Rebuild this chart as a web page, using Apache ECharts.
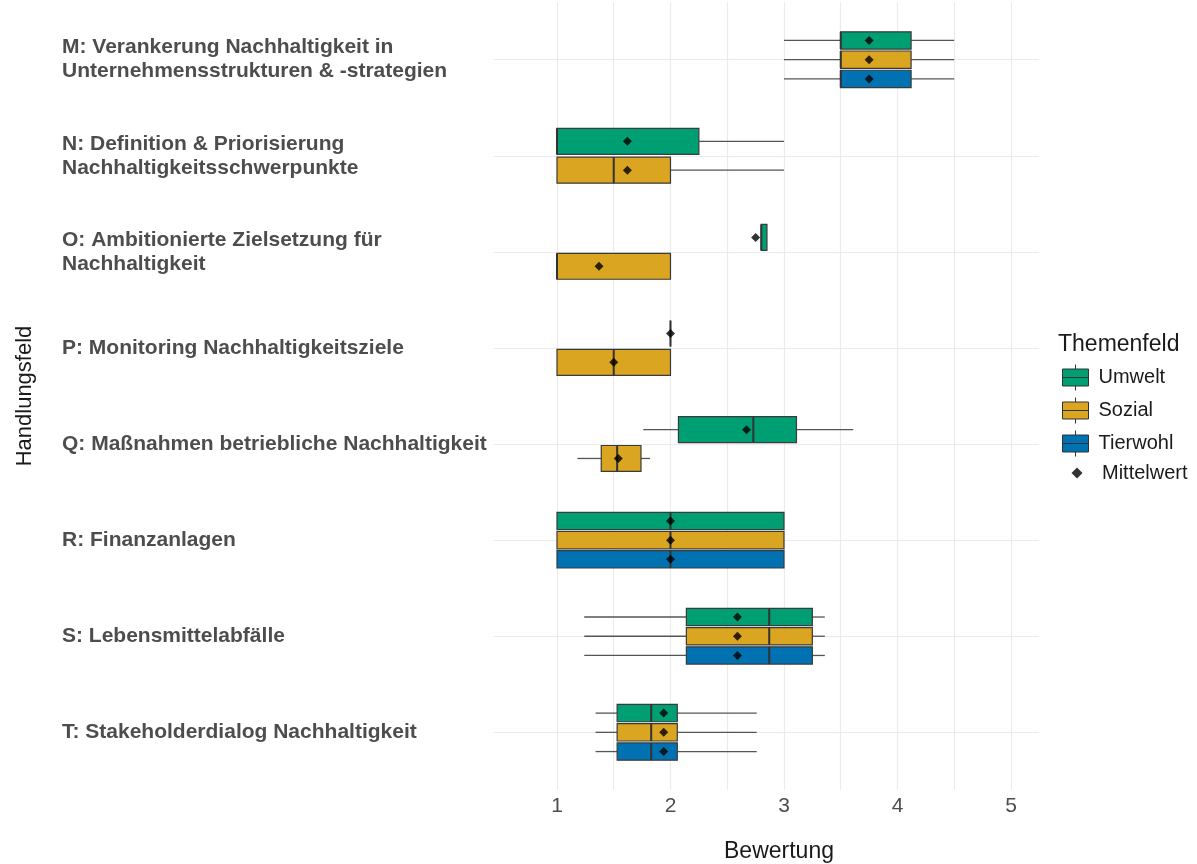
<!DOCTYPE html>
<html>
<head>
<meta charset="utf-8">
<script src="https://cdn.jsdelivr.net/npm/echarts@6/dist/echarts.min.js"></script>
<style>
  html, body { margin: 0; padding: 0; background: #ffffff; }
  #chart { width: 1197px; height: 864px; }
</style>
</head>
<body>
<div id="chart"></div>
<script>
// Handlungsfelder, top to bottom
const categories = [
  'M: Verankerung Nachhaltigkeit in\nUnternehmensstrukturen & -strategien',
  'N: Definition & Priorisierung\nNachhaltigkeitsschwerpunkte',
  'O: Ambitionierte Zielsetzung für\nNachhaltigkeit',
  'P: Monitoring Nachhaltigkeitsziele',
  'Q: Maßnahmen betriebliche Nachhaltigkeit',
  'R: Finanzanlagen',
  'S: Lebensmittelabfälle',
  'T: Stakeholderdialog Nachhaltigkeit'
];

const groupNames = ['Umwelt', 'Sozial', 'Tierwohl'];
const groupColors = ['#009E73', '#DAA520', '#0072B2'];

// Box statistics per Handlungsfeld: [min, Q1, median, Q3, max]
const umweltStats = [
  [3.00, 3.50, 3.50, 4.12, 4.50],
  [1.00, 1.00, 1.00, 2.25, 3.00],
  [2.80, 2.80, 2.80, 2.85, 2.85],
  [2.00, 2.00, 2.00, 2.00, 2.00],
  [1.76, 2.07, 2.73, 3.11, 3.61],
  [1.00, 1.00, 2.00, 3.00, 3.00],
  [1.24, 2.14, 2.87, 3.25, 3.36],
  [1.34, 1.53, 1.83, 2.06, 2.76]
];
const sozialStats = [
  [3.00, 3.50, 3.50, 4.12, 4.50],
  [1.00, 1.00, 1.50, 2.00, 3.00],
  [1.00, 1.00, 1.00, 2.00, 2.00],
  [1.00, 1.00, 1.50, 2.00, 2.00],
  [1.18, 1.39, 1.53, 1.74, 1.82],
  [1.00, 1.00, 2.00, 3.00, 3.00],
  [1.24, 2.14, 2.87, 3.25, 3.36],
  [1.34, 1.53, 1.83, 2.06, 2.76]
];
const tierwohlStats = [
  [3.00, 3.50, 3.50, 4.12, 4.50],
  null,
  null,
  null,
  null,
  [1.00, 1.00, 2.00, 3.00, 3.00],
  [1.24, 2.14, 2.87, 3.25, 3.36],
  [1.34, 1.53, 1.83, 2.06, 2.76]
];

// Mittelwerte
const umweltMeans   = [3.75, 1.62, 2.75, 2.00, 2.67, 2.00, 2.59, 1.94];
const sozialMeans   = [3.75, 1.62, 1.37, 1.50, 1.54, 2.00, 2.59, 1.94];
const tierwohlMeans = [3.75, null, null, null, null, 2.00, 2.59, 1.94];

// Axis ticks
const xTickLabels = [1, 2, 3, 4, 5];
const xGridValues = [1, 1.5, 2, 2.5, 3, 3.5, 4, 4.5, 5];

const statsByGroup = [umweltStats, sozialStats, tierwohlStats];
const meansByGroup = [umweltMeans, sozialMeans, tierwohlMeans];

// Dodging: boxes of one Handlungsfeld share a band of this width
const DODGE_WIDTH = 0.6;
const BOX_FILL = 0.9;

function dodge(catIdx, groupIdx) {
  const present = [];
  statsByGroup.forEach((s, g) => { if (s[catIdx]) present.push(g); });
  const n = present.length;
  const slot = present.indexOf(groupIdx);
  const slotW = DODGE_WIDTH / n;
  return {
    center: catIdx - DODGE_WIDTH / 2 + (slot + 0.5) * slotW,
    half: slotW * BOX_FILL / 2
  };
}

function boxData(groupIdx) {
  const out = [];
  statsByGroup[groupIdx].forEach((s, c) => {
    if (!s) return;
    const d = dodge(c, groupIdx);
    out.push([d.center, d.half].concat(s));
  });
  return out;
}

function meanData() {
  const out = [];
  meansByGroup.forEach((arr, g) => {
    arr.forEach((m, c) => {
      if (m == null) return;
      out.push([m, dodge(c, g).center]);
    });
  });
  return out;
}

function renderBox(params, api) {
  const cy = api.value(0);
  const half = api.value(1);
  const pMin = api.coord([api.value(2), cy]);
  const pQ1 = api.coord([api.value(3), cy]);
  const pMed = api.coord([api.value(4), cy]);
  const pQ3 = api.coord([api.value(5), cy]);
  const pMax = api.coord([api.value(6), cy]);
  const yA = api.coord([api.value(3), cy - half])[1];
  const yB = api.coord([api.value(3), cy + half])[1];
  const top = Math.min(yA, yB), bottom = Math.max(yA, yB);
  const y = pQ1[1];
  const fill = api.visual('color');
  const whisker = { stroke: '#555555', lineWidth: 1.3 };
  return {
    type: 'group',
    children: [
      { type: 'line', shape: { x1: pMin[0], y1: y, x2: pQ1[0], y2: y }, style: whisker },
      { type: 'line', shape: { x1: pQ3[0], y1: y, x2: pMax[0], y2: y }, style: whisker },
      { type: 'rect', shape: { x: pQ1[0], y: top, width: pQ3[0] - pQ1[0], height: bottom - top },
        style: { fill: fill, stroke: '#3a3a3a', lineWidth: 1.2 } },
      { type: 'line', shape: { x1: pMed[0], y1: top, x2: pMed[0], y2: bottom },
        style: { stroke: '#333333', lineWidth: 2 } }
    ]
  };
}

const FONT = "'Liberation Sans', Arial, sans-serif";
const boxIcon = 'path://M0,4.5 L26,4.5 L26,21.5 L0,21.5 Z M0,13 L26,13 M13,0 L13,4.5 M13,21.5 L13,26';
const diamondIcon = 'path://M0,0 M26,26 M13,7.5 L18.5,13 L13,18.5 L7.5,13 Z';

const series = groupNames.map((name, g) => ({
  name: name,
  type: 'custom',
  renderItem: renderBox,
  itemStyle: { color: groupColors[g] },
  encode: { x: [2, 3, 4, 5, 6], y: 0 },
  data: boxData(g),
  silent: true,
  z: 2
}));
series.push({
  name: 'Mittelwert',
  type: 'scatter',
  symbol: 'diamond',
  symbolSize: 9,
  itemStyle: { color: '#000000' },
  data: meanData(),
  silent: true,
  z: 5
});

const legendText = { fontSize: 20, color: '#1a1a1a', fontFamily: FONT };

const chart = echarts.init(document.getElementById('chart'), null, { renderer: 'canvas' });
chart.setOption({
  animation: false,
  backgroundColor: '#ffffff',
  textStyle: { fontFamily: FONT },
  grid: { left: 494, right: 158, top: 2, bottom: 74, containLabel: false, outerBoundsMode: 'none' },
  xAxis: {
    type: 'value',
    min: 0.445,
    max: 5.247,
    axisLine: { show: false },
    axisTick: { show: false, customValues: xGridValues },
    axisLabel: { customValues: xTickLabels, fontSize: 21, color: '#4d4d4d', margin: 6, fontFamily: FONT },
    splitLine: { show: true, lineStyle: { color: '#ebebeb', width: 1.2 } },
    name: 'Bewertung',
    nameLocation: 'middle',
    nameGap: 50,
    nameTextStyle: { fontSize: 23, color: '#1a1a1a', fontFamily: FONT, padding: [0, 0, 0, 25] }
  },
  yAxis: {
    type: 'value',
    min: -0.6,
    max: 7.6,
    inverse: true,
    axisLine: { show: false },
    axisTick: { show: false, customValues: categories.map((c, i) => i) },
    axisLabel: {
      customValues: categories.map((c, i) => i),
      formatter: v => categories[Math.round(v)],
      align: 'left',
      margin: 432,
      fontSize: 21,
      lineHeight: 24,
      fontWeight: 'bold',
      color: '#4d4d4d',
      fontFamily: FONT,
      padding: [10, 0, 0, 0]
    },
    splitLine: { show: true, lineStyle: { color: '#ebebeb', width: 1.2 } },
    name: 'Handlungsfeld',
    nameLocation: 'middle',
    nameGap: 458,
    nameRotate: 90,
    nameTextStyle: { fontSize: 22, color: '#1a1a1a', fontFamily: FONT }
  },
  legend: [
    {
      orient: 'vertical',
      left: 1057,
      top: 359,
      itemWidth: 26,
      itemHeight: 26,
      itemGap: 6,
      selectedMode: false,
      textStyle: Object.assign({ padding: [0, 0, 0, 5] }, legendText),
      data: [
        { name: 'Umwelt', icon: boxIcon, itemStyle: { color: groupColors[0], borderColor: '#333333', borderWidth: 1 } },
        { name: 'Sozial', icon: boxIcon, itemStyle: { color: groupColors[1], borderColor: '#333333', borderWidth: 1 } },
        { name: 'Tierwohl', icon: boxIcon, itemStyle: { color: groupColors[2], borderColor: '#333333', borderWidth: 1 } }
      ]
    },
    {
      orient: 'vertical',
      left: 1059,
      top: 455,
      itemWidth: 26,
      itemHeight: 26,
      selectedMode: false,
      textStyle: Object.assign({ padding: [0, 0, 0, 7] }, legendText),
      data: [
        { name: 'Mittelwert', icon: diamondIcon, itemStyle: { color: '#000000', borderWidth: 0 } }
      ]
    }
  ],
  graphic: [
    {
      type: 'text',
      left: 1058,
      top: 333,
      style: { text: 'Themenfeld', fontSize: 23, fill: '#1a1a1a', fontFamily: FONT }
    }
  ],
  series: series
});
</script>
</body>
</html>
